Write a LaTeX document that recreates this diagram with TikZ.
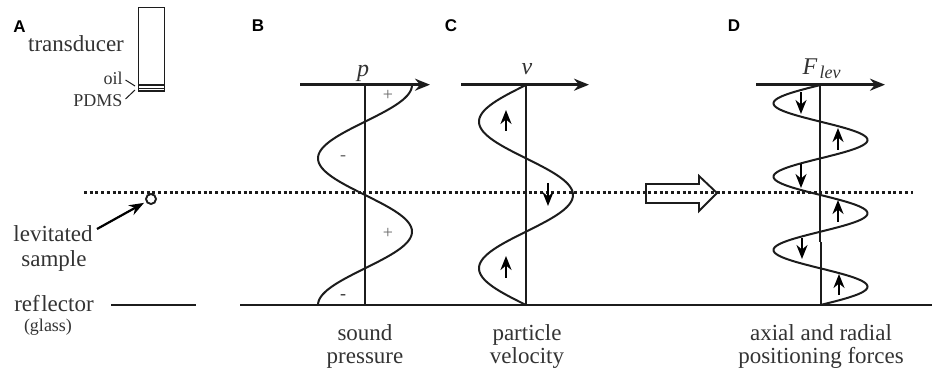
\documentclass[tikz,border=0pt]{standalone}
\usepackage{fontspec}
\setmainfont{Liberation Serif}
\newfontfamily\panelfont{Liberation Sans}
\usetikzlibrary{arrows.meta}
\definecolor{ink}{HTML}{1C1C1C}
\definecolor{txt}{HTML}{333333}
\tikzset{
  x=1pt,y=-1pt,
  lab/.style={font=\fontsize{23}{24}\selectfont,text=txt,inner sep=0pt,anchor=base},
  small/.style={font=\fontsize{18}{20}\selectfont,text=txt,inner sep=0pt,anchor=base},
  panel/.style={font=\panelfont\bfseries\fontsize{17}{18}\selectfont,text=black,inner sep=0pt,anchor=base},
  sym/.style={font=\itshape\fontsize{24}{26}\selectfont,text=txt,inner sep=0pt,anchor=base},
  sign/.style={font=\fontsize{18}{18}\selectfont,text=black!60,inner sep=0pt},
  axisline/.style={draw=ink,line width=2.1pt},
  axisarrow/.style={draw=ink,line width=2.4pt,-{Stealth[length=15pt,width=12pt]}},
  wave/.style={draw=ink,line width=2pt,smooth},
  force/.style={draw=black,line width=2.2pt,-{Stealth[length=14pt,width=11pt]}},
  thin leader/.style={draw=ink,line width=1pt},
}
\begin{document}
\begin{tikzpicture}
\useasboundingbox (0,0) rectangle (932,374);
% panel letters
\node[panel] at (19.5,33) {A};
\node[panel] at (258,32) {B};
\node[panel] at (451,32) {C};
\node[panel] at (734,32) {D};
% transducer
\draw[ink,line width=1.7pt] (138.5,7.5) rectangle (164.5,91);
\draw[ink,line width=2pt] (138.5,85.5) -- (164.5,85.5);
\draw[ink,line width=0.9pt] (138.5,88.2) -- (164.5,88.2);
\node[lab] at (76,52) {transducer};
\node[small] (oil) at (113,85) {oil};
\node[small] (pdms) at (98,107) {PDMS};
\coordinate (oilend) at (135,86);
\coordinate (pdmsend) at (135,90);
\draw[thin leader] (125.5,80) -- (oilend);
\draw[thin leader] (125.5,99) -- (pdmsend);
% dotted level
\coordinate (dl) at (84,192.5);
\coordinate (dr) at (913,192.5);
\draw[ink,line width=2.3pt,dash pattern=on 3pt off 2.7pt] (dl) -- (dr);
% sample
\node[circle,draw=ink,line width=1.9pt,fill=white,minimum size=10pt,inner sep=0pt] (sample) at (151,199) {};
\node[lab] (lev) at (53,242) {levitated};
\node[lab] at (54,267) {sample};
\coordinate (arrstart) at (97,229);
\draw[black,line width=2.2pt,-{Stealth[length=15pt,width=11pt]},shorten >=2pt] (arrstart) -- (sample);
% reflector
\node[lab] at (54,311) {ref\kern1.5pt lector};
\node[small] at (48,331) {(glass)};
\draw[ink,line width=2pt] (111,304.5) -- (196,304.5);
% baseline
\draw[ink,line width=2pt] (240,305) -- (932,305);
% panel B
\draw[axisarrow] (300,84.7) -- (430,84.7);
\draw[axisline] (365,84.7) -- (365,305);
\draw[wave] plot[domain=85:305,samples=120] ({365+47*cos((\x-85)/73.33*180)},\x);
\node[sym] at (363,77) {p};
\node[sign] at (388,95.5) {+};
\node[sign] at (343,158) {-};
\node[sign] at (388,233) {+};
\node[sign,text=txt] at (343,297) {-};
\node[lab] at (365,340) {sound};
\node[lab] at (365,363) {pressure};
% panel C
\draw[axisarrow] (461,84.7) -- (589,84.7);
\draw[axisline] (526,84.7) -- (526,305);
\draw[wave] plot[domain=85:305,samples=120] ({526-47*sin((\x-85)/73.33*180)},\x);
\draw[force] (506,131) -- (506,110);
\draw[force] (548,183) -- (548,206);
\draw[force] (506,278) -- (506,256);
\node[sym] at (527,75) {v};
\node[lab] at (527,340) {particle};
\node[lab] at (527,363) {velocity};
% hollow arrow
\draw[ink,line width=1.9pt] (646,184) -- (699,184) -- (699,176) -- (717,193) -- (699,211) -- (699,203) -- (646,203) -- cycle;
% panel D
\draw[axisarrow] (756,84.7) -- (885,84.7);
\draw[axisline] (820,84.7) -- (820,242);
\draw[axisline] (821,242) -- (821,305);
\draw[wave] plot[domain=85:305,samples=240] ({820.5-47*sin((\x-85)/36.67*180)},\x);
\draw[force] (801,92) -- (801,114);
\draw[force] (838,150) -- (838,128);
\draw[force] (801,164) -- (801,188);
\draw[force] (838,222) -- (838,200);
\draw[force] (802,238) -- (802,259);
\draw[force] (839,295) -- (839,274);
\node[sym] at (810,75) {F};
\node[font=\itshape\fontsize{18}{18}\selectfont,text=txt,inner sep=0pt,anchor=base] at (830,79) {lev};
\node[lab] at (821,340) {axial and radial};
\node[lab] at (821,363) {positioning forces};
\end{tikzpicture}
\end{document}
